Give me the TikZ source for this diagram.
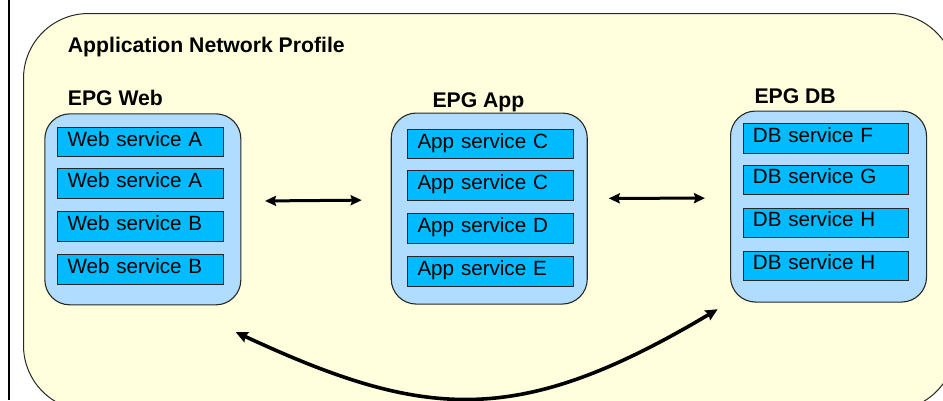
\documentclass[tikz,border=0pt]{standalone}
\usepackage{fontspec}
\setmainfont{Liberation Sans}
\usetikzlibrary{arrows.meta}

\definecolor{profilefill}{RGB}{255,255,221}
\definecolor{epgfill}{RGB}{176,220,255}
\definecolor{svcfill}{RGB}{0,187,255}
\definecolor{edgegray}{RGB}{40,40,40}

\newcommand\svcfont{\fontsize{20.6}{24}\selectfont}
\newcommand\headfont{\fontsize{21.2}{24}\selectfont\bfseries}

\tikzset{
  profile/.style={draw=edgegray, line width=1pt, fill=profilefill,
    rounded corners=65pt, anchor=north west, inner sep=0pt,
    minimum width=932pt, minimum height=397pt},
  epg/.style={draw=edgegray, line width=1.1pt, fill=epgfill,
    rounded corners=25pt, anchor=north west, inner sep=0pt,
    minimum width=196pt, minimum height=191pt},
  svc/.style={draw=edgegray, line width=1pt, fill=svcfill,
    anchor=north west, inner xsep=9.7pt, inner ysep=0pt,
    text width=146pt, align=left, minimum height=29.3pt,
    text height=14.5pt, text depth=6.5pt, font=\svcfont},
  heading/.style={anchor=base west, inner sep=0pt, font=\headfont},
  biarrow/.style={line width=3pt,
    {Stealth[length=11pt,width=10pt,inset=1.5pt]}-{Stealth[length=11pt,width=10pt,inset=1.5pt]}},
  curvearrow/.style={line width=3.6pt,
    {Stealth[length=12pt,width=11pt,inset=1.5pt]}-{Stealth[length=12pt,width=11pt,inset=1.5pt]}},
}

\begin{document}
\begin{tikzpicture}[x=1pt,y=-1pt]
  \useasboundingbox (0,0) rectangle (943,400);
  \clip (0,0) rectangle (943,400);

  % outer frame line on the left
  \draw[line width=2pt, black] (8.5,0) -- (8.5,400);

  % application network profile
  \node[profile] (anp) at (23,13) {};
  \node[heading] (anptitle) at (67.7,52.3) {Application Network Profile};

  % EPG containers
  \node[epg] (web) at (44.3,113.3) {};
  \node[epg] (app) at (390.7,112.5) {};
  \node[epg] (db)  at (730,110.5) {};

  \node[heading] (webtitle) at (67.7,105.7) {EPG Web};
  \node[heading] (apptitle) at (432.3,107) {EPG App};
  \node[heading] (dbtitle)  at (754.3,103.5) {EPG DB};

  % services
  \node[svc] (w1) at (57.3,127)   {Web service A};
  \node[svc] (w2) at (57.3,168.3) {Web service A};
  \node[svc] (w3) at (57.3,211.3) {Web service B};
  \node[svc] (w4) at (57.3,254.3) {Web service B};

  \node[svc] (a1) at (407.3,129)   {App service C};
  \node[svc] (a2) at (407.3,170.3) {App service C};
  \node[svc] (a3) at (407.3,213.3) {App service D};
  \node[svc] (a4) at (407.3,256.3) {App service E};

  \node[svc] (d1) at (742.7,123.3) {DB service F};
  \node[svc] (d2) at (742.7,164.6) {DB service G};
  \node[svc] (d3) at (742.7,207.6) {DB service H};
  \node[svc] (d4) at (742.7,250.6) {DB service H};

  % connector end points, placed off the container edges
  \coordinate (webR) at ([xshift=23.6pt,yshift=8.4pt]web.east);
  \coordinate (appL) at ([xshift=-29pt,yshift=8.4pt]app.west);
  \coordinate (appR) at ([xshift=21pt,yshift=10.2pt]app.east);
  \coordinate (dbL)  at ([xshift=-25pt,yshift=8.4pt]db.west);
  \coordinate (webB) at ([xshift=-5.7pt,yshift=-26.7pt]web.south east);
  \coordinate (dbB)  at ([xshift=-12.3pt,yshift=-6.6pt]db.south west);

  \draw[biarrow] (webR) -- (appL);
  \draw[biarrow] (appR) -- (dbL);
  \draw[curvearrow] (webB) .. controls (425,420) and (517.7,428.3) .. (dbB);
\end{tikzpicture}
\end{document}
